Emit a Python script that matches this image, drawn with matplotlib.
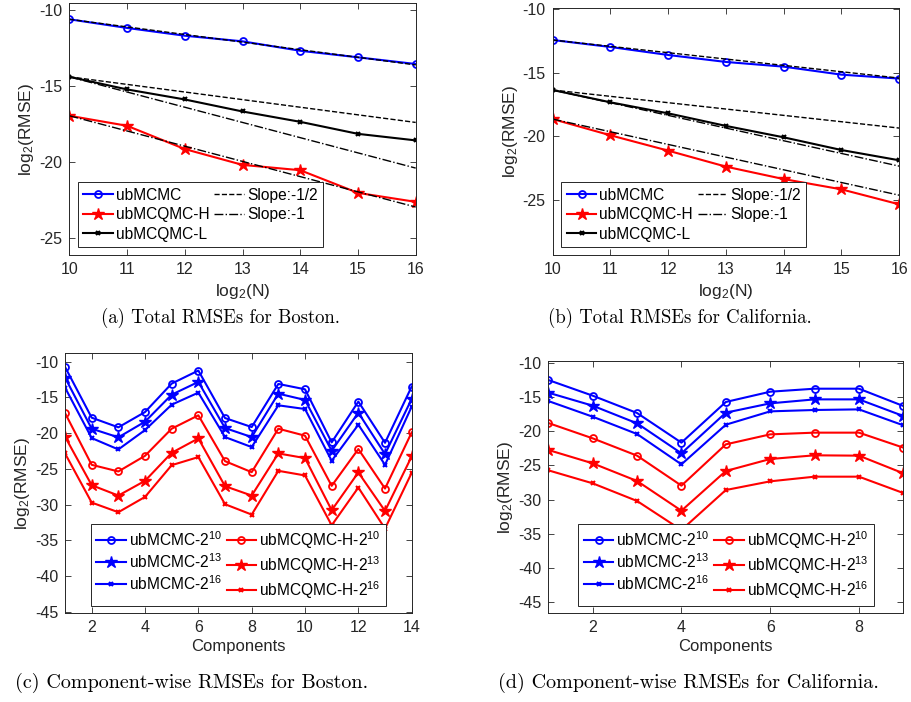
import numpy as np
import matplotlib
matplotlib.use("Agg")
import matplotlib.pyplot as plt

plt.rcParams['font.family'] = ['Liberation Sans', 'DejaVu Sans']
plt.rcParams['mathtext.default'] = 'regular'
plt.rcParams['axes.unicode_minus'] = False

# ---- datos: RMSE total ----
n_log = [10, 11, 12, 13, 14, 15, 16]

boston_mcmc = [-10.61, -11.18, -11.69, -12.06, -12.68, -13.11, -13.55]
boston_qmc_h = [-16.95, -17.61, -19.14, -20.18, -20.53, -22.02, -22.61]
boston_qmc_l = [-14.39, -15.22, -15.88, -16.67, -17.35, -18.14, -18.57]

calif_mcmc = [-12.42, -12.97, -13.60, -14.15, -14.52, -15.15, -15.46]
calif_qmc_h = [-18.65, -19.93, -21.14, -22.40, -23.38, -24.19, -25.37]
calif_qmc_l = [-16.36, -17.33, -18.20, -19.19, -20.09, -21.09, -21.90]

# ---- datos: RMSE por componente ----
boston_comp = list(range(1, 15))
boston_mcmc_10 = [-10.75, -17.85, -19.20, -17.06, -13.08, -11.26, -17.90,
                  -19.16, -13.13, -13.88, -21.30, -15.60, -21.36, -13.50]
boston_mcmc_13 = [-12.24, -19.39, -20.60, -18.41, -14.63, -12.85, -19.30,
                  -20.56, -14.49, -15.37, -22.48, -17.15, -22.94, -15.23]
boston_mcmc_16 = [-13.64, -20.70, -22.29, -19.58, -16.03, -14.35, -20.56,
                  -21.96, -16.12, -16.64, -23.88, -18.83, -24.44, -16.31]
boston_h_10 = [-17.20, -24.44, -25.37, -23.18, -19.39, -17.52, -23.93,
               -25.47, -19.39, -20.37, -27.38, -22.24, -27.76, -19.91]
boston_h_13 = [-20.51, -27.29, -28.74, -26.68, -22.76, -20.75, -27.43,
               -28.74, -22.85, -23.50, -30.79, -25.51, -30.89, -23.27]
boston_h_16 = [-22.85, -29.72, -31.07, -28.93, -24.49, -23.36, -29.95,
               -31.40, -25.28, -25.93, -32.90, -27.62, -33.36, -25.56]

calif_comp = list(range(1, 10))
calif_mcmc_10 = [-12.53, -14.82, -17.35, -21.68, -15.74, -14.24, -13.80, -13.80, -16.33]
calif_mcmc_13 = [-14.38, -16.28, -18.86, -23.24, -17.30, -15.94, -15.36, -15.36, -17.79]
calif_mcmc_16 = [-15.60, -17.89, -20.42, -24.85, -19.06, -17.11, -16.91, -16.82, -19.15]
calif_h_10 = [-18.81, -21.05, -23.58, -27.96, -21.93, -20.47, -20.22, -20.22, -22.41]
calif_h_13 = [-22.75, -24.70, -27.28, -31.62, -25.82, -24.07, -23.53, -23.58, -26.16]
calif_h_16 = [-25.72, -27.62, -30.20, -34.44, -28.60, -27.33, -26.65, -26.65, -29.04]

AX_COLOR = "#262626"

fig = plt.figure(figsize=(9.12, 7.02), dpi=100)


def estilo(ax):
    ax.tick_params(direction='in', top=True, right=True, length=4,
                   width=0.6, labelsize=11.5, colors=AX_COLOR, pad=5)
    for sp in ax.spines.values():
        sp.set_color(AX_COLOR)
        sp.set_linewidth(0.7)


def legenda(ax, pos, fs, spacing, colsp):
    leg = ax.legend(loc='lower left', bbox_to_anchor=pos,
                    bbox_transform=fig.transFigure, ncol=2, fontsize=fs,
                    fancybox=False, framealpha=1, edgecolor=AX_COLOR,
                    handlelength=1.9, handletextpad=0.2, columnspacing=colsp,
                    borderpad=0.35, labelspacing=spacing, borderaxespad=0)
    leg.get_frame().set_linewidth(0.7)
    return leg


def painel_total(rect, mcmc, qh, ql, ylim, legpos):
    ax = fig.add_axes(rect)
    x = np.array(n_log)
    ax.plot(x, mcmc, '-o', color='blue', lw=1.5, ms=5, mfc='none', mew=1.3,
            label='ubMCMC')
    ax.plot(x, qh, '-*', color='red', lw=1.5, ms=9, label='ubMCQMC-H')
    ax.plot(x, ql, '-x', color='black', lw=1.5, ms=3.5, mew=1.5,
            label='ubMCQMC-L')
    # linhas de referência a partir do primeiro ponto
    ax.plot(x, mcmc[0] - 0.5 * (x - x[0]), '--', color='black', lw=1.0,
            label='Slope:-1/2')
    ax.plot(x, ql[0] - 1.0 * (x - x[0]), '-.', color='black', lw=1.0,
            label='Slope:-1')
    ax.plot(x, ql[0] - 0.5 * (x - x[0]), '--', color='black', lw=1.0)
    ax.plot(x, qh[0] - 1.0 * (x - x[0]), '-.', color='black', lw=1.0)
    ax.set_xlim(10, 16)
    ax.set_ylim(*ylim)
    ax.set_xticks(n_log)
    ax.set_yticks([-10, -15, -20, -25])
    ax.set_xlabel('log$_2$(N)', fontsize=12.5, color=AX_COLOR, labelpad=4)
    ax.set_ylabel('log$_2$(RMSE)', fontsize=12.5, color=AX_COLOR, labelpad=2)
    estilo(ax)
    legenda(ax, legpos, 11.2, 0.3, 0.3)
    return ax


def painel_comp(rect, comp, series, ylim, xticks, legpos):
    ax = fig.add_axes(rect)
    mk = [dict(marker='o', ms=5, mfc='none', mew=1.3),
          dict(marker='*', ms=9),
          dict(marker='x', ms=3.5, mew=1.5)]
    nomes = ['10', '13', '16']
    for i in range(3):
        ax.plot(comp, series[i], '-', color='blue', lw=1.5,
                label='ubMCMC-2$^{%s}$' % nomes[i], **mk[i])
    for i in range(3):
        ax.plot(comp, series[3 + i], '-', color='red', lw=1.5,
                label='ubMCQMC-H-2$^{%s}$' % nomes[i], **mk[i])
    ax.set_xlim(comp[0], comp[-1])
    ax.set_ylim(*ylim)
    ax.set_xticks(xticks)
    ax.set_yticks([-10, -15, -20, -25, -30, -35, -40, -45])
    ax.set_xlabel('Components', fontsize=12, color=AX_COLOR, labelpad=3)
    ax.set_ylabel('log$_2$(RMSE)', fontsize=12.5, color=AX_COLOR, labelpad=2)
    estilo(ax)
    legenda(ax, legpos, 11.2, 0.2, 0.3)
    return ax


painel_total([0.0760, 0.6368, 0.3798, 0.3585], boston_mcmc, boston_qmc_h,
             boston_qmc_l, (-26.1, -9.56), (0.0852, 0.6477))
painel_total([0.6060, 0.6368, 0.3800, 0.3514], calif_mcmc, calif_qmc_h,
             calif_qmc_l, (-29.36, -9.92), (0.6155, 0.6477))

painel_comp([0.0713, 0.1264, 0.3801, 0.3708], boston_comp,
            [boston_mcmc_10, boston_mcmc_13, boston_mcmc_16,
             boston_h_10, boston_h_13, boston_h_16],
            (-45.2, -8.8), [2, 4, 6, 8, 10, 12, 14], (0.0995, 0.1368))
painel_comp([0.6012, 0.1264, 0.3893, 0.3594], calif_comp,
            [calif_mcmc_10, calif_mcmc_13, calif_mcmc_16,
             calif_h_10, calif_h_13, calif_h_16],
            (-46.6, -9.75), [2, 4, 6, 8], (0.6341, 0.1368))

# legendas das figuras
cap = dict(family='cmr10', ha='center', va='center')
fig.text(0.242, 1 - 318 / 702, '(a) Total RMSEs for Boston.', fontsize=13.5, **cap)
fig.text(0.745, 1 - 318 / 702, '(b) Total RMSEs for California.', fontsize=13.5, **cap)
fig.text(0.210, 1 - 683 / 702, '(c) Component-wise RMSEs for Boston.', fontsize=14.5, **cap)
fig.text(0.755, 1 - 683 / 702, '(d) Component-wise RMSEs for California.', fontsize=14.5, **cap)

fig.savefig('out.png', dpi=100)
